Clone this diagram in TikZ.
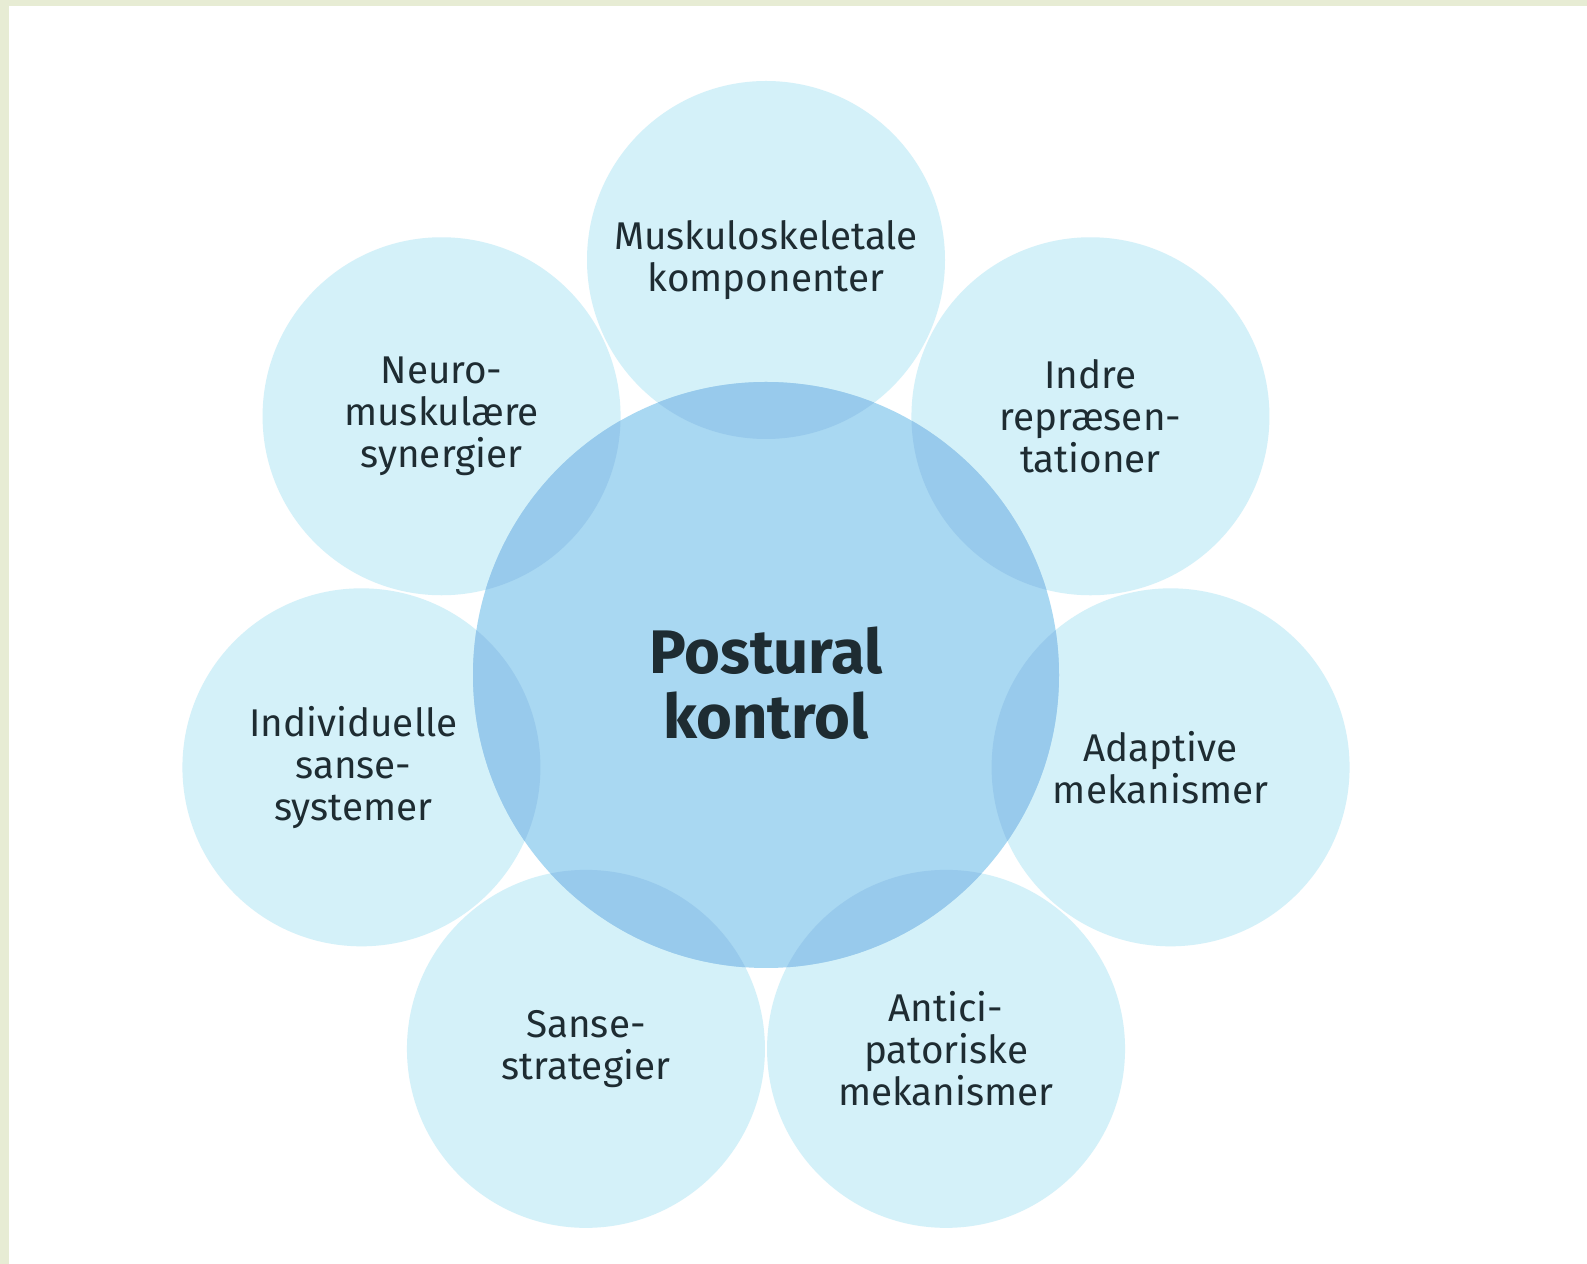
\documentclass[tikz,border=0pt]{standalone}
\usepackage{fontspec}
\setmainfont{Fira Sans}
\usetikzlibrary{calc, positioning}
\definecolor{outerblue}{HTML}{D4F1F9}
\definecolor{innerblue}{HTML}{A9D8F2}
\definecolor{overlapblue}{HTML}{98CAEC}
\definecolor{textdark}{HTML}{1E2C32}
\definecolor{slideframe}{HTML}{E7ECD4}
\tikzset{
  petal/.style={font=\fontsize{11}{12}\selectfont, text=textdark, align=center},
  hub/.style={font=\fontsize{17.5}{18.5}\selectfont\bfseries, text=textdark, align=center}
}

\begin{document}
\begin{tikzpicture}
\def\rad{4.15}
\def\rin{2.93}
\def\rout{1.79}
\useasboundingbox (0, 0) rectangle (15.87, 12.64);
\fill[white] (0, 0) rectangle (15.87, 12.64);
\fill[slideframe] (0, 0) rectangle (0.09, 12.64);
\fill[slideframe] (0, 12.58) rectangle (15.87, 12.64);

\coordinate (O) at (7.66, 5.89);
\foreach \k/\lbl in {0/M, 1/I, 2/A, 3/P, 4/S, 5/D, 6/N} {
  \coordinate (\lbl) at ($(O) + ({90 - 360/7*\k}:\rad)$);
}

% petals, hub, and where they overlap
\foreach \lbl in {M, I, A, P, S, D, N} {
  \fill[outerblue] (\lbl) circle (\rout);
}
\fill[innerblue] (O) circle (\rin);
\begin{scope}
  \clip (O) circle (\rin);
  \foreach \lbl in {M, I, A, P, S, D, N} {
    \fill[overlapblue] (\lbl) circle (\rout);
  }
\end{scope}

\node[hub] (hubTxt) at ($(O) + (0, -0.08)$) {Postural\\kontrol};
\node[petal] (mTxt) at (M) {Muskuloskeletale\\komponenter};
\node[petal] (iTxt) at (I) {Indre\\repræsen-\\tationer};
\node[petal] (aTxt) at ($(A) + (-0.1, 0)$) {Adaptive\\mekanismer};
\node[petal] (pTxt) at (P) {Antici-\\patoriske\\mekanismer};
\node[petal] (sTxt) at (S) {Sanse-\\strategier};
\node[petal] (dTxt) at ($(D) + (-0.08, 0)$) {Individuelle\\sanse-\\systemer};
\node[petal] (nTxt) at (N) {Neuro-\\muskulære\\synergier};
\end{tikzpicture}
\end{document}
